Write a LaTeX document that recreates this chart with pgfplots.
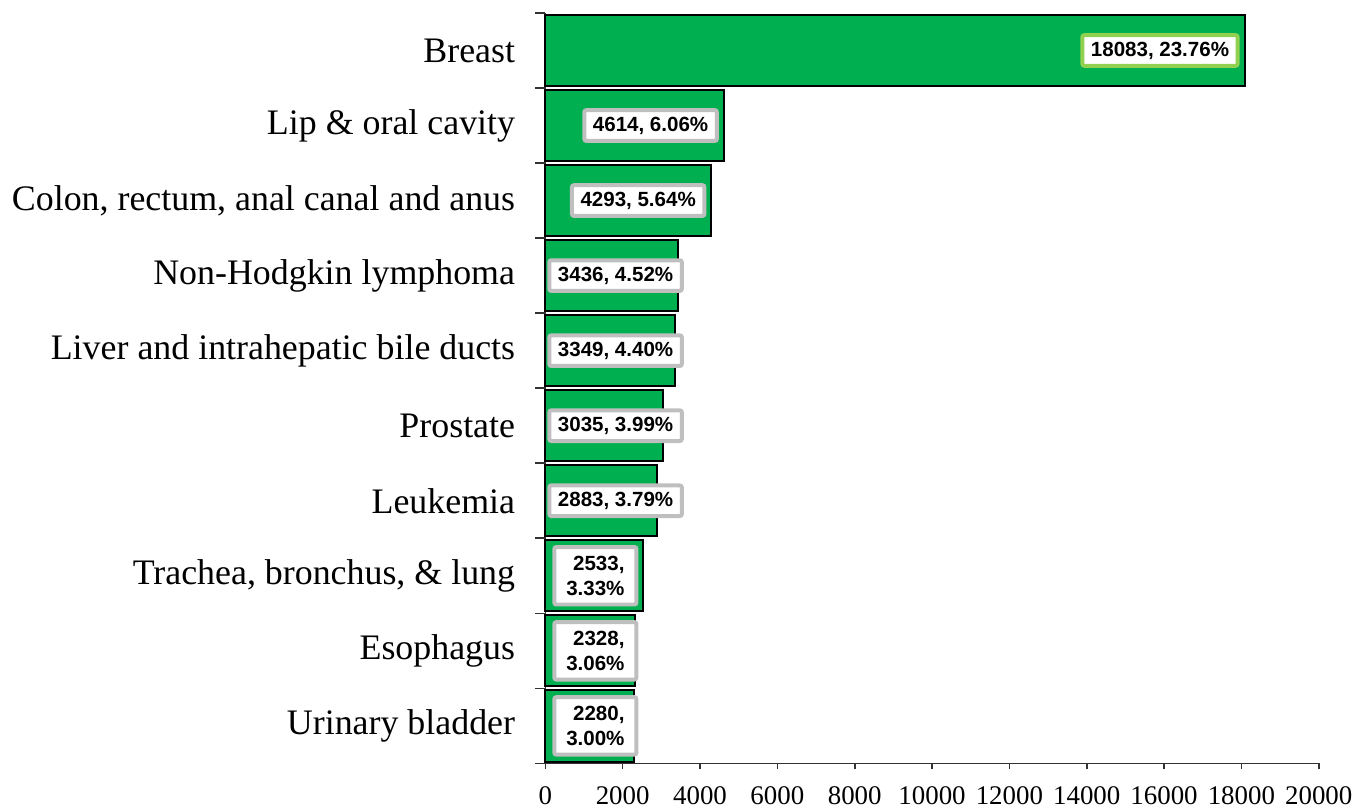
\documentclass[border=0pt]{standalone}
\usepackage{pgfplots}
\pgfplotsset{compat=1.18}
\usepackage{pgfplotstable}
\usepackage{fontspec}
\setmainfont{Liberation Serif}
\newfontfamily\lsans{Liberation Sans}

\definecolor{barg}{HTML}{00B050}
\definecolor{boxgray}{HTML}{BFBFBF}
\definecolor{boxgreen}{HTML}{92D050}

% cases by site, top bar (Breast) at pos 9
\pgfplotstableread{
pos n
9 18083
8 4614
7 4293
6 3436
5 3349
4 3035
3 2883
2 2533
1 2328
0 2280
}\cancers

\tikzset{lbl/.style={font=\lsans\bfseries\fontsize{10.3bp}{12.5bp}\selectfont,
  fill=white, line width=2bp, rounded corners=1bp, inner xsep=4.3bp, inner ysep=3.3bp}}

\begin{document}
\begin{tikzpicture}
\begin{axis}[
    scale only axis,
    width=388bp, height=376.5bp,
    xmin=0, xmax=20000,
    ymin=-0.5, ymax=9.5,
    axis x line*=bottom,
    axis y line*=left,
    axis line style={black!80, line width=0.8bp},
    tick align=outside,
    major tick length=3bp,
    minor tick length=5bp,
    xtick={0,2000,...,20000},
    scaled x ticks=false,
    ytick={0,...,9},
    minor ytick={-0.5,0.5,...,9.5},
    major y tick style={draw=none},
    every tick/.style={black!80, line width=0.8bp},
    yticklabels={Urinary bladder, Esophagus, {Trachea, bronchus, \& lung}, Leukemia, Prostate,
      Liver and intrahepatic bile ducts, Non-Hodgkin lymphoma,
      {Colon, rectum, anal canal and anus}, Lip \& oral cavity, Breast},
    yticklabel style={font=\fontsize{18bp}{20bp}\selectfont, inner sep=0pt, xshift=-12bp},
    xticklabel style={font=\fontsize{13.5bp}{15bp}\selectfont, yshift=-5bp},
    /pgf/number format/assume math mode=true,
    /pgf/number format/1000 sep={},
    clip=false,
]
\addplot[xbar, bar width=0.95, bar shift=0pt, fill=barg, draw=black, line width=1bp]
  table[x=n, y=pos] {\cancers};

% Breast label, green frame
\addplot[draw=none, mark=none, forget plot, point meta=explicit symbolic,
  nodes near coords,
  every node near coord/.append style={lbl, draw=boxgreen, anchor=east, xshift=-2.5bp}]
  coordinates {(18083,9) [18083, 23.76\%]};

% labels inside the bar end
\addplot[draw=none, mark=none, forget plot, point meta=explicit symbolic,
  nodes near coords,
  every node near coord/.append style={lbl, draw=boxgray, anchor=east, xshift=-2.5bp}]
  coordinates {(4614,8) [4614, 6.06\%] (4293,7) [4293, 5.64\%]};

% labels starting at the axis, one line
\addplot[draw=none, mark=none, forget plot, point meta=explicit symbolic,
  nodes near coords,
  every node near coord/.append style={lbl, draw=boxgray, anchor=west, xshift=1bp}]
  coordinates {(0,6) [3436, 4.52\%] (0,5) [3349, 4.40\%]
               (0,4) [3035, 3.99\%] (0,3) [2883, 3.79\%]};

% labels starting at the axis, two lines
\addplot[draw=none, mark=none, forget plot, point meta=explicit symbolic,
  nodes near coords,
  every node near coord/.append style={lbl, draw=boxgray, align=right,
    inner xsep=6bp, inner ysep=4.5bp, anchor=west, xshift=3.5bp}]
  coordinates {(0,2) [{2533,\\3.33\%}] (0,1) [{2328,\\3.06\%}] (0,0) [{2280,\\3.00\%}]};
\end{axis}
\path ([yshift=6.5bp]current axis.north);
\path (current bounding box.west) ++(-6bp,0);
\end{tikzpicture}
\end{document}
